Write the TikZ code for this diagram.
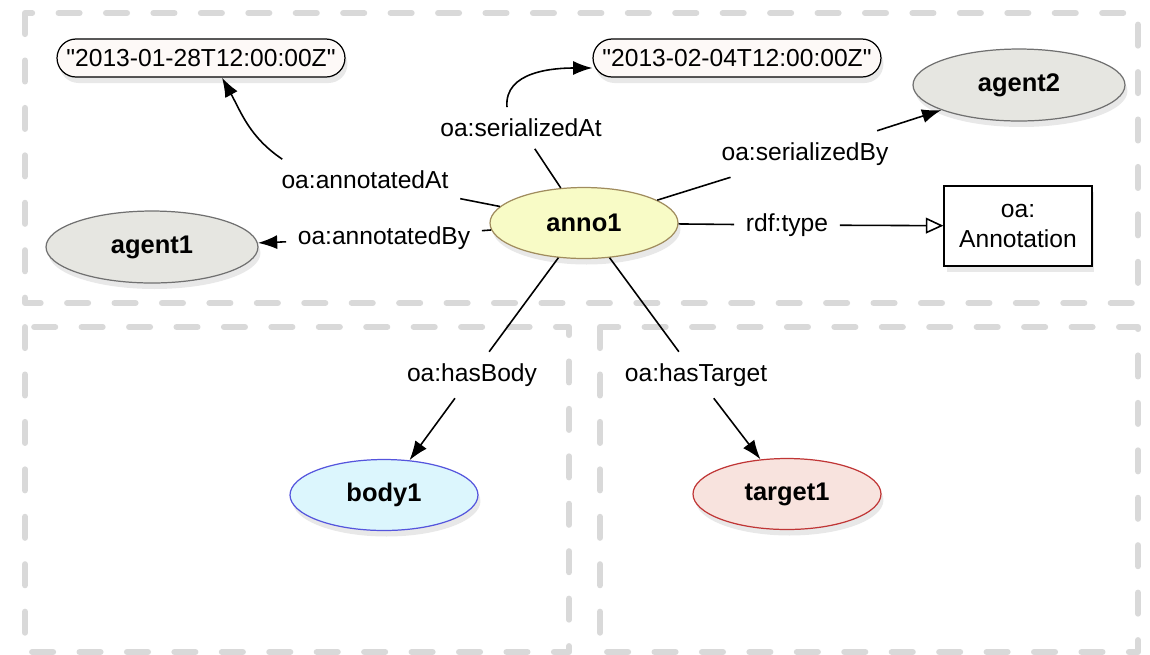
\documentclass[tikz,border=0pt]{standalone}
\usepackage{fontspec}
\setmainfont{Liberation Sans}
\newfontfamily\litfont{Liberation Sans}[Ligatures=ResetAll]
\usetikzlibrary{arrows.meta,shapes.geometric,shadows}
\definecolor{framegray}{HTML}{D9D9D9}
\definecolor{agentfill}{HTML}{E6E6E1}
\definecolor{agentline}{HTML}{707070}
\definecolor{annofill}{HTML}{F8FBC6}
\definecolor{annoline}{HTML}{A08C5E}
\definecolor{bodyfill}{HTML}{DCF6FD}
\definecolor{bodyline}{HTML}{5555DD}
\definecolor{targetfill}{HTML}{F8E3DE}
\definecolor{targetline}{HTML}{C03636}
\definecolor{litfill}{HTML}{FDF9F7}
\begin{document}
\begin{tikzpicture}[x=0.02cm,y=0.02cm,line width=0.9pt,
frame/.style={draw=framegray,line width=3.4pt,dash pattern=on 12pt off 15pt,line cap=round,line join=round},
res/.style={draw,ellipse,line width=0.7pt,minimum width=3.76cm,minimum height=1.42cm,font=\fontsize{14.5}{17}\selectfont\bfseries,drop shadow={opacity=0.18,shadow xshift=0.05cm,shadow yshift=-0.12cm}},
agent/.style={res,fill=agentfill,draw=agentline,minimum width=4.24cm,minimum height=1.44cm},
literal/.style={draw,fill=litfill,rectangle,rounded corners=0.38cm,line width=0.7pt,minimum width=5.76cm,minimum height=0.76cm,font=\litfont\fontsize{14}{17}\selectfont,drop shadow={opacity=0.18,shadow xshift=0.05cm,shadow yshift=-0.12cm}},
classbox/.style={draw,fill=white,rectangle,line width=0.7pt,minimum width=2.96cm,minimum height=1.6cm,align=center,font=\fontsize{14}{17}\selectfont,drop shadow={opacity=0.18,shadow xshift=0.05cm,shadow yshift=-0.12cm}},
lbl/.style={inner sep=0.22cm,font=\fontsize{14}{17}\selectfont},
arr/.style={-{Latex[length=11pt,width=8pt]}}]
\useasboundingbox (0,0) rectangle (1150,-654);
\draw[frame] (25,-13) rectangle (1138,-303);
\draw[frame] (25,-327) rectangle (569,-652);
\draw[frame] (600,-327) rectangle (1138,-652);

\node[res,fill=annofill,draw=annoline] (anno1) at (584,-223) {anno1};
\node[agent] (agent1) at (152,-247) {agent1};
\node[agent] (agent2) at (1019,-85) {agent2};
\node[literal] (lit1) at (201,-58) {"2013-01-28T12:00:00Z"};
\node[literal] (lit2) at (737,-58) {"2013-02-04T12:00:00Z"};
\node[classbox] (annoclass) at (1018,-226) {oa:\\Annotation};
\node[res,fill=bodyfill,draw=bodyline] (body1) at (384,-495) {body1};
\node[res,fill=targetfill,draw=targetline] (target1) at (787,-494) {target1};

\node[lbl] (lAt) at (365,-180) {oa:annotatedAt};
\node[lbl] (lBy) at (384,-238) {oa:annotatedBy};
\node[lbl] (lSerAt) at (521,-128) {oa:serializedAt};
\node[lbl] (lSerBy) at (805,-154) {oa:serializedBy};
\node[lbl] (lType) at (787,-225) {rdf:type};
\node[lbl] (lBody) at (472,-375) {oa:hasBody};
\node[lbl] (lTarget) at (696,-375) {oa:hasTarget};

\draw (anno1) -- (lAt);
\draw[arr] ([xshift=0.25cm]lAt.north west) to[out=146,in=-61] ([xshift=0.42cm]lit1.south);
\draw (anno1) -- (lBy);
\draw[arr] (lBy) -- (agent1);
\draw (anno1) -- (lSerAt);
\draw[arr] ([xshift=-0.28cm]lSerAt.north) to[out=95,in=180] ([yshift=-0.2cm]lit2.west);
\draw (anno1) -- (lSerBy);
\draw[arr] (lSerBy) -- (agent2);
\draw (anno1) -- (lType);
\draw[-{Triangle[open,length=10pt,width=9pt]}] (lType) -- (annoclass);
\draw (anno1) -- (lBody);
\draw[arr] (lBody) -- (body1);
\draw (anno1) -- (lTarget);
\draw[arr] (lTarget) -- (target1);
\end{tikzpicture}
\end{document}
